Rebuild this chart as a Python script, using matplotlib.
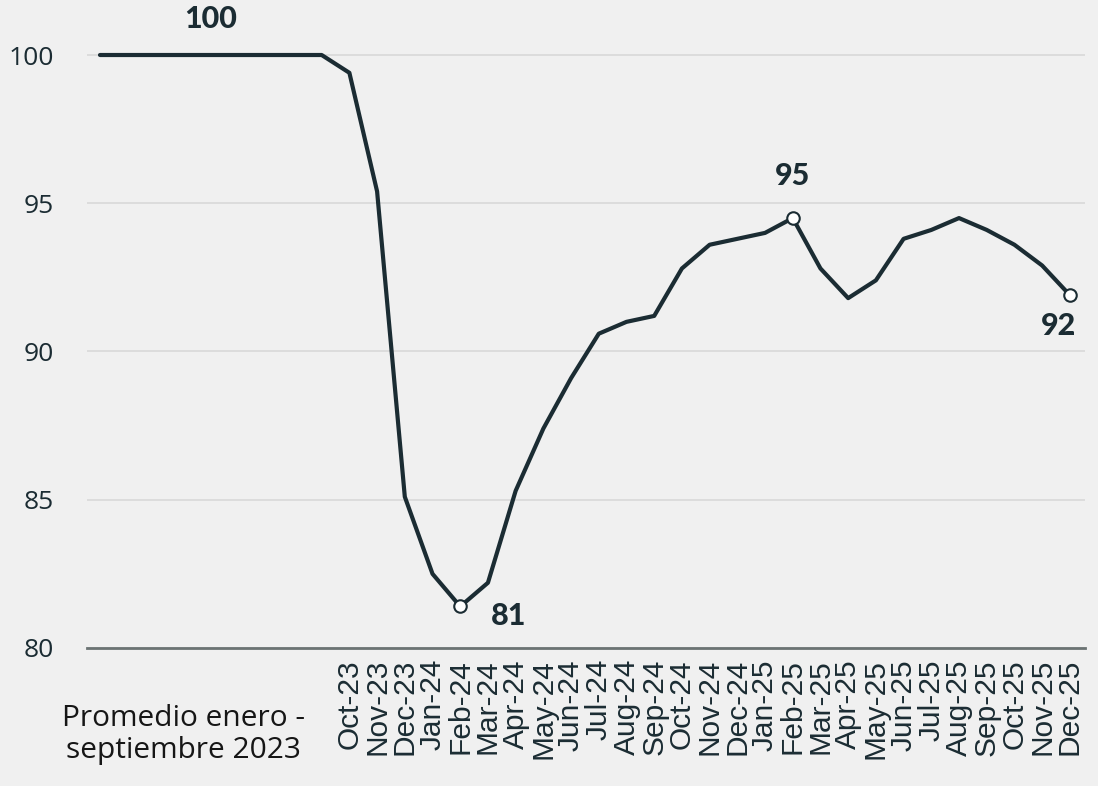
import matplotlib
matplotlib.use('Agg')
import matplotlib.pyplot as plt

# Indice mensual (promedio ene-sep 2023 = 100)
meses = ['', '', '', '', '', '', '', '', '',
         'Oct-23', 'Nov-23', 'Dec-23',
         'Jan-24', 'Feb-24', 'Mar-24', 'Apr-24', 'May-24', 'Jun-24',
         'Jul-24', 'Aug-24', 'Sep-24', 'Oct-24', 'Nov-24', 'Dec-24',
         'Jan-25', 'Feb-25', 'Mar-25', 'Apr-25', 'May-25', 'Jun-25',
         'Jul-25', 'Aug-25', 'Sep-25', 'Oct-25', 'Nov-25', 'Dec-25']
valores = [100, 100, 100, 100, 100, 100, 100, 100, 100,
           99.4, 95.4, 85.1,
           82.5, 81.4, 82.2, 85.3, 87.4, 89.1,
           90.6, 91.0, 91.2, 92.8, 93.6, 93.8,
           94.0, 94.5, 92.8, 91.8, 92.4, 93.8,
           94.1, 94.5, 94.1, 93.6, 92.9, 91.9]
destacados = [13, 25, 35]
etiqueta_promedio = 'Promedio enero -\nseptiembre 2023'

color_linea = '#1b2c33'
fondo = '#f0f0f0'
x = list(range(len(valores)))

fig = plt.figure(figsize=(10.98, 7.86), dpi=100, facecolor=fondo)
ax = fig.add_axes([0.0792, 0.1756, 0.9088, 0.811], facecolor=fondo)

ax.plot(x, valores, color=color_linea, lw=3, solid_capstyle='round', zorder=3)
ax.plot([x[i] for i in destacados], [valores[i] for i in destacados], 'o',
        ms=9, mfc='white', mec=color_linea, mew=1.5, zorder=4)

ax.set_xlim(-0.47, 35.54)
ax.set_ylim(80, 101.5)
ax.set_yticks([80, 85, 90, 95, 100])
ax.grid(axis='y', color='#d9d9d9', lw=1.2)
ax.set_axisbelow(True)
for s in ['top', 'right', 'left']:
    ax.spines[s].set_visible(False)
ax.spines['bottom'].set_color('#6b7373')
ax.spines['bottom'].set_linewidth(2)

ax.set_xticks(x[9:])
ax.set_xticklabels(meses[9:], rotation=90, fontsize=21.5, color=color_linea,
                   family='Liberation Sans')
ax.tick_params(axis='x', length=0, pad=8)
ax.tick_params(axis='y', length=0, pad=24, labelsize=19, labelcolor=color_linea)
for t in ax.get_yticklabels():
    t.set_fontfamily('Open Sans')

ax.text(3.0, -0.088, etiqueta_promedio, transform=ax.get_xaxis_transform(),
        ha='center', va='top', fontsize=21.5, color='#161616',
        family='Open Sans', linespacing=1.15)

estilo = dict(fontsize=22, fontweight='black', color=color_linea, family='Lato',
              textcoords='offset points', ha='center')
ax.annotate('100', (4, 100), xytext=(0, 16), va='bottom', **estilo)
ax.annotate('81', (13, valores[13]), xytext=(35, -7), va='center', **estilo)
ax.annotate('95', (25, valores[25]), xytext=(0, 20), va='bottom', **estilo)
ax.annotate('92', (35, valores[35]), xytext=(-8, -12), va='top', **estilo)

fig.savefig('out.png', dpi=100, facecolor=fondo)
